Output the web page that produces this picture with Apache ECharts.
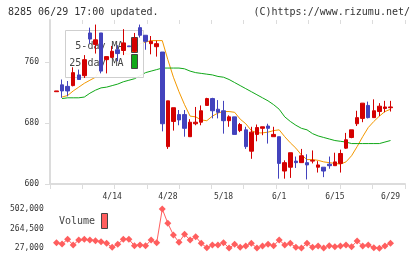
<!DOCTYPE html>
<html><head><meta charset="utf-8">
<script src="https://cdn.jsdelivr.net/npm/echarts@6/dist/echarts.min.js"></script>
<style>html,body{margin:0;padding:0;background:#fff}#c{width:420px;height:259px}</style>
</head><body><div id="c"></div>
<script>
const dates = ['3/31','4/1','4/2','4/3','4/6','4/7','4/8','4/9','4/10','4/13','4/14','4/15','4/16','4/17','4/20','4/21','4/22','4/23','4/24','4/27','4/28','4/30','5/1','5/7','5/8','5/11','5/12','5/13','5/14','5/15','5/18','5/19','5/20','5/21','5/22','5/25','5/26','5/27','5/28','5/29','6/1','6/2','6/3','6/4','6/5','6/8','6/9','6/10','6/11','6/12','6/15','6/16','6/17','6/18','6/19','6/22','6/23','6/24','6/25','6/26','6/29'];
const openV  = [721,730,728,729,743,742,798,783,798,763,766,776,775,781,774,805,795,784,780,773,649,682,691,691,662,679,681,703,712,698,696,683,688,670,671,643,665,673,676,662,662,617,622,630,628,628,630,622,622,626,624,627,647,661,679,686,703,687,695,699,700];
const closeV = [722,722,722,746,737,763,790,789,748,767,774,771,785,780,791,795,787,787,784,679,709,700,684,673,681,681,696,712,696,694,683,688,665,678,649,668,674,675,673,665,627,628,641,628,637,625,631,625,617,624,629,640,658,671,687,706,687,696,702,701,701];
const lowV   = [721,713,715,728,737,739,784,771,745,745,765,761,769,780,772,792,776,770,767,669,646,670,677,662,662,677,677,703,686,686,666,675,665,668,646,633,656,664,653,662,607,607,608,621,628,606,627,615,609,620,624,615,646,660,676,681,686,687,689,694,695];
const highV  = [722,737,735,753,750,769,805,809,798,767,781,782,803,781,798,809,795,794,788,773,709,700,697,697,685,701,703,713,713,710,709,690,688,680,675,675,678,675,679,675,662,631,641,636,646,639,644,630,622,636,641,645,667,671,696,706,708,711,706,709,709];
const ma5  = [null,714,716,722,727,732,736,740,752,765,767,772,772,770,776,784,786,788,788,788,763,740,721,704,689,688,684,683,689,693,695,695,694,685,679,670,667,667,668,670,671,662,654,647,638,632,632,631,629,628,627,626,629,637,649,662,674,682,689,695,698];
const ma25 = [null,712,713,713,713,714,719,723,726,727,729,731,734,736,738,742,746,748,750,752,752,752,752,751,748,746,745,744,743,741,740,737,733,729,725,721,717,713,709,704,698,688,682,677,673,671,666,663,661,659,657,656,655,653,653,653,653,653,653,655,657];
const volume = [95000,79000,136000,67000,127000,136000,127000,119000,107000,87000,39000,75000,136000,136000,58000,67000,58000,127000,95000,502000,329000,188000,100000,196000,127000,167000,87000,34000,67000,67000,95000,30000,75000,39000,55000,87000,30000,55000,75000,58000,127000,67000,87000,39000,30000,87000,39000,55000,30000,58000,47000,55000,67000,47000,115000,55000,67000,34000,27000,55000,87000];
const priceTicks = [600,680,760];
const volTicks = [27000,264500,502000];

const candleData = dates.map((d,i)=>[openV[i],closeV[i],lowV[i],highV[i]]);
const MONO = '"DejaVu Sans Mono", monospace';
const RED = '#d40000', BLUE = '#4343bd', AXIS = '#dcdcdc';

const chart = echarts.init(document.getElementById('c'), null, {renderer:'canvas'});
chart.setOption({
  animation:false,
  backgroundColor:'#fff',
  grid:[
    {left:53.72, right:26.7, top:20, bottom:75},
    {left:50, right:15, top:20, bottom:75},
    {left:53.72, right:26.7, top:209, bottom:10.7}
  ],
  xAxis:[
    {type:'category', gridIndex:0, data:dates, boundaryGap:true,
     axisLine:{show:false}, axisTick:{show:false}, splitLine:{show:false},
     axisLabel:{interval:(i)=> i>0 && i%10===0, fontFamily:MONO, fontSize:8, color:'#333', margin:9}},
    {type:'value', gridIndex:1, min:0, max:11, interval:1,
     axisLine:{show:true, lineStyle:{color:AXIS, width:2}},
     axisTick:{show:true, length:5, lineStyle:{color:AXIS, width:1}},
     axisLabel:{show:false}, splitLine:{show:false}},
    {type:'value', gridIndex:1, min:0, max:11, interval:1,
     axisLine:{show:false},
     axisTick:{show:true, inside:true, length:4, lineStyle:{color:AXIS, width:1}},
     axisLabel:{show:false}, splitLine:{show:false}},
    {type:'category', gridIndex:2, data:dates, boundaryGap:true, show:false}
  ],
  yAxis:[
    {type:'value', gridIndex:0, min:600, max:815, show:false, splitLine:{show:false}},
    {type:'value', gridIndex:1, min:600, max:815, interval:80,
     axisLine:{show:true, lineStyle:{color:AXIS, width:2}},
     axisTick:{show:true, length:5, customValues:priceTicks, lineStyle:{color:AXIS, width:1}},
     axisLabel:{customValues:priceTicks, fontFamily:MONO, fontSize:8, color:'#333', margin:11,
       formatter:(v)=> priceTicks.indexOf(v)>=0 ? String(v) : ''},
     splitLine:{show:false}},
    {type:'value', gridIndex:1, min:600, max:815, interval:80,
     axisLine:{show:false},
     axisTick:{show:true, inside:true, length:3, customValues:priceTicks, lineStyle:{color:AXIS, width:1}},
     axisLabel:{show:false}, splitLine:{show:false}},
    {type:'value', gridIndex:2, min:27000, max:502000, interval:237500,
     axisLine:{show:false}, axisTick:{show:false}, splitLine:{show:false},
     axisLabel:{customValues:volTicks, fontFamily:MONO, fontSize:8, color:'#333', margin:10}}
  ],
  graphic:[
    {type:'text', left:8, top:7, z:10, style:{text:'8285 06/29 17:00 updated.', font:'10px '+MONO, fill:'#333'}},
    {type:'text', right:10, top:7, z:10, style:{text:'(C)https://www.rizumu.net/', font:'10px '+MONO, fill:'#333'}},
    {type:'rect', z:2, shape:{x:65.5, y:30.5, width:78, height:47}, style:{fill:'rgba(255,255,255,0.92)', stroke:'#cfcfcf', lineWidth:1}},
    {type:'text', z:2, x:123.5, y:46.7, style:{text:'5-day MA', font:'10px '+MONO, fill:'#444', align:'right', verticalAlign:'middle'}},
    {type:'text', z:2, x:123.5, y:63.3, style:{text:'25-day MA', font:'10px '+MONO, fill:'#444', align:'right', verticalAlign:'middle'}},
    {type:'rect', z:2, shape:{x:131.5, y:37.5, width:6, height:15}, style:{fill:'#f39800', stroke:'#444', lineWidth:1}},
    {type:'rect', z:2, shape:{x:131.5, y:54.5, width:6, height:14}, style:{fill:'#10a818', stroke:'#444', lineWidth:1}},
    {type:'text', z:2, x:59, y:221.7, style:{text:'Volume', font:'10px '+MONO, fill:'#444', verticalAlign:'middle'}},
    {type:'rect', z:2, shape:{x:101.5, y:213.5, width:6, height:15}, style:{fill:'#ff5e5e', stroke:'#444', lineWidth:1}}
  ],
  series:[
    {type:'line', name:'5-day MA', xAxisIndex:0, yAxisIndex:0, data:ma5, z:1, showSymbol:false,
     lineStyle:{color:'#f39800', width:1}, itemStyle:{color:'#f39800'}},
    {type:'line', name:'25-day MA', xAxisIndex:0, yAxisIndex:0, data:ma25, z:1, showSymbol:false,
     lineStyle:{color:'#10a818', width:1}, itemStyle:{color:'#10a818'}},
    {type:'candlestick', name:'Price', xAxisIndex:0, yAxisIndex:0, data:candleData, z:3, barWidth:4,
     itemStyle:{color:RED, color0:BLUE, borderColor:RED, borderColor0:BLUE, borderWidth:1}},
    {type:'line', name:'Volume', xAxisIndex:3, yAxisIndex:3, data:volume, symbol:'diamond', symbolSize:7,
     showAllSymbol:true,
     lineStyle:{color:'#ff5e5e', width:1}, itemStyle:{color:'#ff5e5e'}}
  ]
});
</script></body></html>
